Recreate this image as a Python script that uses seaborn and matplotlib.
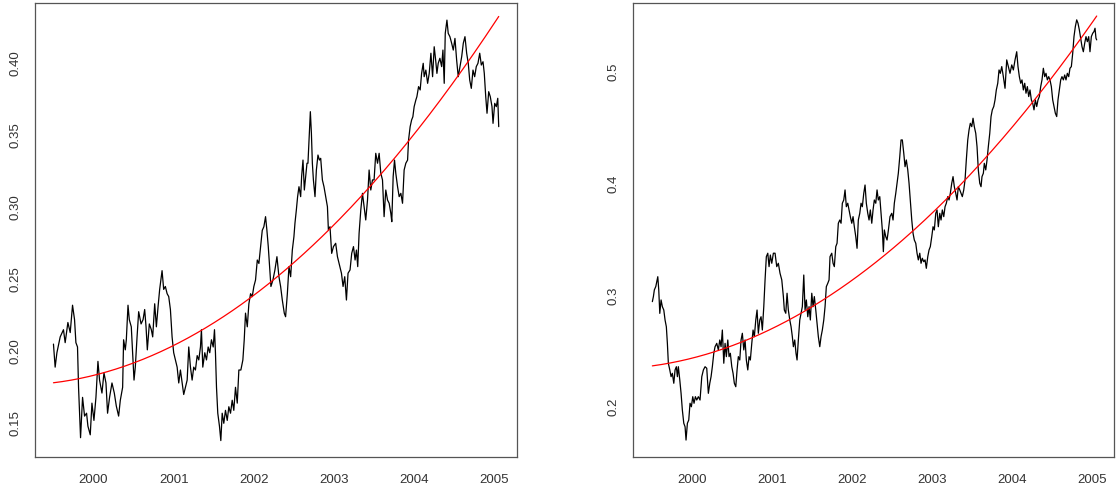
import matplotlib
matplotlib.use("Agg")
import matplotlib.pyplot as plt
import numpy as np
import pandas as pd
import seaborn as sns

# left series (years, values)
left_t = [1999.500, 1999.521, 1999.543, 1999.584, 1999.625, 1999.646, 1999.680, 1999.709, 1999.738, 1999.763,
          1999.780, 1999.800, 1999.813, 1999.825, 1999.838, 1999.863, 1999.888, 1999.913, 1999.930, 1999.959,
          1999.980, 2000.005, 2000.030, 2000.055, 2000.075, 2000.105, 2000.130, 2000.155, 2000.175, 2000.200,
          2000.230, 2000.259, 2000.284, 2000.313, 2000.334, 2000.363, 2000.375, 2000.396, 2000.409, 2000.430,
          2000.446, 2000.471, 2000.488, 2000.505, 2000.521, 2000.543, 2000.563, 2000.593, 2000.618, 2000.638,
          2000.655, 2000.671, 2000.696, 2000.721, 2000.738, 2000.763, 2000.784, 2000.805, 2000.825, 2000.855,
          2000.875, 2000.896, 2000.918, 2000.938, 2000.959, 2000.980, 2001.000, 2001.021, 2001.043, 2001.063,
          2001.084, 2001.105, 2001.125, 2001.146, 2001.168, 2001.188, 2001.209, 2001.230, 2001.250, 2001.271,
          2001.293, 2001.313, 2001.334, 2001.346, 2001.363, 2001.388, 2001.409, 2001.430, 2001.450, 2001.471,
          2001.493, 2001.509, 2001.521, 2001.534, 2001.550, 2001.571, 2001.588, 2001.605, 2001.625, 2001.646,
          2001.668, 2001.688, 2001.709, 2001.730, 2001.750, 2001.771, 2001.793, 2001.813, 2001.838, 2001.863,
          2001.880, 2001.896, 2001.918, 2001.938, 2001.959, 2001.980, 2002.000, 2002.021, 2002.043, 2002.063,
          2002.084, 2002.105, 2002.125, 2002.146, 2002.163, 2002.180, 2002.196, 2002.213, 2002.238, 2002.263,
          2002.288, 2002.313, 2002.334, 2002.355, 2002.380, 2002.396, 2002.418, 2002.438, 2002.459, 2002.480,
          2002.500, 2002.513, 2002.530, 2002.546, 2002.563, 2002.584, 2002.596, 2002.613, 2002.630, 2002.646,
          2002.663, 2002.675, 2002.688, 2002.705, 2002.718, 2002.730, 2002.743, 2002.763, 2002.780, 2002.800,
          2002.818, 2002.834, 2002.855, 2002.875, 2002.896, 2002.918, 2002.930, 2002.950, 2002.971, 2002.993,
          2003.021, 2003.043, 2003.063, 2003.093, 2003.113, 2003.134, 2003.155, 2003.175, 2003.200, 2003.221,
          2003.243, 2003.263, 2003.280, 2003.296, 2003.313, 2003.334, 2003.355, 2003.375, 2003.396, 2003.418,
          2003.438, 2003.459, 2003.480, 2003.500, 2003.521, 2003.543, 2003.563, 2003.584, 2003.605, 2003.625,
          2003.646, 2003.668, 2003.688, 2003.709, 2003.721, 2003.738, 2003.755, 2003.771, 2003.793, 2003.813,
          2003.834, 2003.855, 2003.875, 2003.896, 2003.918, 2003.930, 2003.950, 2003.968, 2003.984, 2004.000,
          2004.021, 2004.034, 2004.055, 2004.075, 2004.093, 2004.113, 2004.125, 2004.146, 2004.168, 2004.188,
          2004.209, 2004.230, 2004.250, 2004.268, 2004.284, 2004.300, 2004.321, 2004.343, 2004.359, 2004.375,
          2004.388, 2004.409, 2004.425, 2004.446, 2004.468, 2004.488, 2004.509, 2004.530, 2004.550, 2004.571,
          2004.593, 2004.613, 2004.634, 2004.655, 2004.675, 2004.693, 2004.713, 2004.734, 2004.755, 2004.775,
          2004.796, 2004.818, 2004.838, 2004.859, 2004.875, 2004.893, 2004.909, 2004.930, 2004.950, 2004.971,
          2004.984, 2005.005, 2005.025, 2005.043, 2005.055]
left_v = [0.205, 0.189, 0.199, 0.210, 0.215, 0.206, 0.220, 0.213, 0.232, 0.222,
          0.206, 0.203, 0.175, 0.159, 0.140, 0.168, 0.155, 0.157, 0.148, 0.142,
          0.164, 0.152, 0.168, 0.193, 0.180, 0.171, 0.185, 0.178, 0.157, 0.168,
          0.178, 0.171, 0.162, 0.155, 0.166, 0.175, 0.208, 0.201, 0.208, 0.232,
          0.222, 0.217, 0.199, 0.180, 0.189, 0.210, 0.2275, 0.219, 0.222, 0.229,
          0.217, 0.201, 0.219, 0.215, 0.210, 0.233, 0.217, 0.231, 0.243, 0.256,
          0.243, 0.245, 0.240, 0.238, 0.229, 0.210, 0.199, 0.194, 0.189, 0.178,
          0.187, 0.178, 0.170, 0.175, 0.180, 0.203, 0.189, 0.180, 0.189, 0.187,
          0.197, 0.194, 0.203, 0.215, 0.189, 0.199, 0.194, 0.203, 0.199, 0.208,
          0.203, 0.215, 0.199, 0.175, 0.157, 0.148, 0.138, 0.157, 0.150, 0.159,
          0.152, 0.1615, 0.157, 0.166, 0.159, 0.175, 0.164, 0.187, 0.187, 0.194,
          0.208, 0.2265, 0.217, 0.233, 0.240, 0.238, 0.245, 0.2495, 0.2634, 0.261,
          0.2727, 0.284, 0.2865, 0.2935, 0.284, 0.2727, 0.2588, 0.245, 0.2495, 0.2565,
          0.2657, 0.2518, 0.245, 0.2356, 0.2264, 0.224, 0.240, 0.2588, 0.2518, 0.2703,
          0.2796, 0.289, 0.298, 0.3074, 0.3143, 0.3074, 0.3213, 0.3328, 0.312, 0.3213,
          0.3306, 0.3306, 0.3467, 0.3664, 0.3514, 0.3306, 0.319, 0.3074, 0.3259, 0.3363,
          0.3328, 0.334, 0.319, 0.3143, 0.3074, 0.3004, 0.2842, 0.2865, 0.268, 0.2727,
          0.275, 0.2657, 0.261, 0.2542, 0.245, 0.2518, 0.2356, 0.2542, 0.2565, 0.268,
          0.2727, 0.2634, 0.2703, 0.2588, 0.2819, 0.298, 0.3097, 0.3004, 0.2912, 0.305,
          0.3259, 0.312, 0.319, 0.319, 0.3375, 0.3306, 0.3375, 0.3236, 0.319, 0.2935,
          0.312, 0.305, 0.3028, 0.2958, 0.290, 0.3213, 0.3328, 0.3236, 0.3143, 0.3074,
          0.3097, 0.3028, 0.3259, 0.3306, 0.3328, 0.3467, 0.356, 0.3606, 0.3629, 0.3699,
          0.3745, 0.3768, 0.3838, 0.3815, 0.393, 0.400, 0.3907, 0.3953, 0.3861, 0.393,
          0.407, 0.3907, 0.4115, 0.4023, 0.393, 0.400, 0.4035, 0.3977, 0.4092, 0.3861,
          0.4208, 0.430, 0.4208, 0.4185, 0.4139, 0.4092, 0.4173, 0.4023, 0.3907, 0.3977,
          0.4046, 0.4139, 0.4185, 0.407, 0.400, 0.3884, 0.3826, 0.3953, 0.3907, 0.3977,
          0.400, 0.407, 0.3988, 0.4011, 0.393, 0.3768, 0.3653, 0.3803, 0.3768, 0.3699,
          0.3583, 0.3722, 0.3699, 0.3757, 0.356]

# red trend curve of the left panel, sampled off the chart
left_trend_t = [1999.5, 2000.0, 2000.4375, 2000.959, 2001.3125, 2001.73, 2001.9375, 2002.146,
                2002.4375, 2002.8125, 2003.23, 2003.5625, 2003.875, 2004.25, 2004.667, 2005.055]
left_trend_v = [0.1785, 0.1824, 0.1905, 0.2037, 0.2136, 0.2275, 0.2368, 0.2472,
                0.2588, 0.275, 0.2993, 0.3224, 0.3421, 0.3706, 0.4016, 0.4312]

# right series
right_t = [1999.500, 1999.513, 1999.525, 1999.543, 1999.555, 1999.568, 1999.580, 1999.593, 1999.609, 1999.625,
           1999.643, 1999.659, 1999.675, 1999.688, 1999.700, 1999.718, 1999.734, 1999.750, 1999.768, 1999.784,
           1999.800, 1999.813, 1999.825, 1999.843, 1999.859, 1999.875, 1999.893, 1999.909, 1999.921, 1999.938,
           1999.955, 1999.971, 1999.988, 2000.005, 2000.021, 2000.038, 2000.055, 2000.075, 2000.096, 2000.118,
           2000.138, 2000.159, 2000.180, 2000.200, 2000.218, 2000.234, 2000.250, 2000.268, 2000.284, 2000.305,
           2000.325, 2000.343, 2000.359, 2000.375, 2000.393, 2000.409, 2000.425, 2000.443, 2000.459, 2000.475,
           2000.493, 2000.509, 2000.525, 2000.543, 2000.559, 2000.575, 2000.593, 2000.609, 2000.625, 2000.643,
           2000.659, 2000.675, 2000.693, 2000.709, 2000.725, 2000.743, 2000.759, 2000.775, 2000.793, 2000.809,
           2000.825, 2000.843, 2000.859, 2000.875, 2000.893, 2000.909, 2000.925, 2000.943, 2000.959, 2000.975,
           2000.993, 2001.013, 2001.034, 2001.055, 2001.075, 2001.096, 2001.118, 2001.138, 2001.150, 2001.168,
           2001.184, 2001.200, 2001.218, 2001.234, 2001.250, 2001.263, 2001.280, 2001.296, 2001.309, 2001.325,
           2001.343, 2001.359, 2001.375, 2001.393, 2001.409, 2001.425, 2001.443, 2001.459, 2001.475, 2001.493,
           2001.509, 2001.525, 2001.543, 2001.559, 2001.575, 2001.593, 2001.609, 2001.625, 2001.643, 2001.659,
           2001.675, 2001.693, 2001.709, 2001.721, 2001.743, 2001.759, 2001.775, 2001.793, 2001.809, 2001.825,
           2001.843, 2001.859, 2001.875, 2001.893, 2001.909, 2001.925, 2001.943, 2001.959, 2001.975, 2001.993,
           2002.009, 2002.025, 2002.043, 2002.059, 2002.075, 2002.093, 2002.109, 2002.125, 2002.143, 2002.159,
           2002.175, 2002.193, 2002.209, 2002.225, 2002.243, 2002.259, 2002.275, 2002.293, 2002.309, 2002.325,
           2002.343, 2002.359, 2002.375, 2002.388, 2002.400, 2002.418, 2002.434, 2002.450, 2002.471, 2002.493,
           2002.509, 2002.525, 2002.543, 2002.559, 2002.575, 2002.593, 2002.609, 2002.625, 2002.643, 2002.659,
           2002.675, 2002.693, 2002.709, 2002.725, 2002.743, 2002.759, 2002.775, 2002.793, 2002.809, 2002.825,
           2002.843, 2002.859, 2002.875, 2002.893, 2002.909, 2002.925, 2002.943, 2002.959, 2002.975, 2002.993,
           2003.009, 2003.025, 2003.043, 2003.059, 2003.075, 2003.093, 2003.109, 2003.125, 2003.143, 2003.159,
           2003.175, 2003.193, 2003.209, 2003.225, 2003.243, 2003.259, 2003.275, 2003.293, 2003.309, 2003.325,
           2003.343, 2003.359, 2003.375, 2003.393, 2003.409, 2003.425, 2003.443, 2003.459, 2003.475, 2003.493,
           2003.509, 2003.525, 2003.543, 2003.559, 2003.575, 2003.593, 2003.609, 2003.621, 2003.638, 2003.650,
           2003.668, 2003.684, 2003.700, 2003.718, 2003.734, 2003.750, 2003.768, 2003.784, 2003.800, 2003.818,
           2003.834, 2003.850, 2003.868, 2003.888, 2003.909, 2003.930, 2003.950, 2003.971, 2003.993, 2004.013,
           2004.034, 2004.055, 2004.071, 2004.088, 2004.105, 2004.121, 2004.138, 2004.155, 2004.171, 2004.188,
           2004.205, 2004.221, 2004.238, 2004.255, 2004.271, 2004.288, 2004.305, 2004.321, 2004.338, 2004.355,
           2004.371, 2004.388, 2004.405, 2004.421, 2004.438, 2004.455, 2004.471, 2004.488, 2004.505, 2004.521,
           2004.538, 2004.555, 2004.571, 2004.588, 2004.605, 2004.621, 2004.638, 2004.655, 2004.671, 2004.688,
           2004.705, 2004.721, 2004.738, 2004.755, 2004.771, 2004.788, 2004.805, 2004.821, 2004.838, 2004.855,
           2004.871, 2004.888, 2004.905, 2004.921, 2004.938, 2004.955, 2004.971, 2004.988, 2005.005, 2005.021,
           2005.034, 2005.046, 2005.055]
right_v = [0.2945, 0.299, 0.305, 0.308, 0.3123, 0.3168, 0.305, 0.284, 0.296, 0.290,
           0.287, 0.278, 0.272, 0.257, 0.2394, 0.2334, 0.2274, 0.2304, 0.2215, 0.2334,
           0.2363, 0.2274, 0.2363, 0.2244, 0.2125, 0.1976, 0.1857, 0.1826, 0.1707, 0.1857,
           0.1886, 0.2036, 0.2005, 0.2095, 0.2036, 0.2095, 0.2065, 0.2095, 0.2065, 0.2274,
           0.2334, 0.2363, 0.2349, 0.2125, 0.2215, 0.2274, 0.2363, 0.2483, 0.2542, 0.2572,
           0.2513, 0.2602, 0.2542, 0.2691, 0.2394, 0.2572, 0.2453, 0.2602, 0.2453, 0.2483,
           0.2363, 0.2304, 0.2215, 0.2184, 0.2334, 0.2453, 0.2423, 0.2602, 0.2662, 0.2513,
           0.2602, 0.2423, 0.2334, 0.2453, 0.2423, 0.2572, 0.2691, 0.2632, 0.2781, 0.287,
           0.2662, 0.2781, 0.281, 0.2691, 0.290, 0.3139, 0.3347, 0.3378, 0.3258, 0.3362,
           0.3288, 0.3378, 0.3378, 0.3258, 0.3288, 0.3199, 0.3139, 0.299, 0.287, 0.2841,
           0.302, 0.287, 0.2781, 0.2721, 0.2632, 0.2542, 0.2602, 0.2483, 0.2423, 0.2602,
           0.2781, 0.2841, 0.290, 0.3183, 0.287, 0.296, 0.281, 0.290, 0.2781, 0.302,
           0.290, 0.299, 0.287, 0.2751, 0.2632, 0.2542, 0.2632, 0.2691, 0.2781, 0.290,
           0.3079, 0.3109, 0.3139, 0.3347, 0.3378, 0.3288, 0.3258, 0.3437, 0.3467, 0.3646,
           0.3675, 0.3646, 0.3825, 0.3854, 0.3944, 0.3794, 0.3825, 0.3765, 0.3705, 0.3646,
           0.3705, 0.3615, 0.3526, 0.3422, 0.3675, 0.3735, 0.3825, 0.3794, 0.3914, 0.3988,
           0.3825, 0.3735, 0.3675, 0.3765, 0.3646, 0.3765, 0.3854, 0.3825, 0.3944, 0.3854,
           0.3884, 0.3735, 0.3586, 0.3392, 0.3586, 0.3526, 0.3496, 0.358, 0.3705, 0.3735,
           0.3675, 0.3825, 0.3914, 0.4004, 0.4093, 0.4241, 0.4391, 0.4391, 0.4272, 0.4152,
           0.4212, 0.4123, 0.4004, 0.3854, 0.3675, 0.3556, 0.3496, 0.3467, 0.3378, 0.3318,
           0.3378, 0.3288, 0.3333, 0.3302, 0.3318, 0.3243, 0.3347, 0.3407, 0.3437, 0.3526,
           0.3615, 0.3586, 0.3735, 0.3765, 0.3615, 0.3735, 0.3675, 0.3765, 0.3705, 0.3794,
           0.3825, 0.3884, 0.3854, 0.3914, 0.4004, 0.4063, 0.3973, 0.3914, 0.3854, 0.3973,
           0.3944, 0.3914, 0.3884, 0.3944, 0.4033, 0.4212, 0.4391, 0.448, 0.454, 0.451,
           0.4585, 0.451, 0.445, 0.433, 0.4123, 0.4004, 0.3973, 0.4063, 0.4093, 0.4182,
           0.4123, 0.4212, 0.433, 0.445, 0.460, 0.466, 0.469, 0.4749, 0.4838, 0.4898,
           0.5017, 0.4987, 0.5047, 0.4957, 0.4853, 0.5107, 0.5047, 0.4987, 0.5062, 0.5017,
           0.5107, 0.518, 0.5047, 0.4957, 0.4898, 0.4928, 0.4838, 0.4898, 0.4809, 0.4868,
           0.4779, 0.4838, 0.4749, 0.4719, 0.466, 0.4749, 0.469, 0.4749, 0.4779, 0.4868,
           0.4928, 0.5032, 0.4957, 0.4987, 0.4928, 0.4957, 0.4928, 0.4868, 0.4749, 0.469,
           0.463, 0.460, 0.4749, 0.4838, 0.4928, 0.4957, 0.4928, 0.4972, 0.4928, 0.4987,
           0.4957, 0.5032, 0.5047, 0.5166, 0.5315, 0.5405, 0.5465, 0.5435, 0.5375, 0.530,
           0.5226, 0.518, 0.5256, 0.5315, 0.527, 0.5315, 0.518, 0.5315, 0.5345, 0.536,
           0.539, 0.530, 0.5286]

# red trend curve of the right panel, sampled off the chart
right_trend_t = [1999.5, 2000.0, 2000.284, 2000.575, 2000.784, 2000.971, 2001.325, 2001.534,
                 2001.742, 2001.95, 2002.159, 2002.471, 2002.763, 2003.034, 2003.325, 2003.659,
                 2003.971, 2004.263, 2004.471, 2004.68, 2004.888, 2005.055]
right_trend_v = [0.2378, 0.2438, 0.2497, 0.2557, 0.2617, 0.2691, 0.2826, 0.2915,
                 0.3034, 0.3139, 0.3243, 0.3407, 0.3571, 0.375, 0.3959, 0.4212,
                 0.448, 0.4704, 0.4928, 0.5151, 0.5345, 0.5494]

year_ticks = [2000, 2001, 2002, 2003, 2004, 2005]
left_yticks = [0.15, 0.20, 0.25, 0.30, 0.35, 0.40]
left_ylabels = ["0.15", "0.20", "0.25", "0.30", "0.35", "0.40"]
right_yticks = [0.2, 0.3, 0.4, 0.5]
right_ylabels = ["0.2", "0.3", "0.4", "0.5"]

sns.set_style("white")
plt.rcParams['font.family'] = ['Liberation Sans', 'DejaVu Sans']

fig = plt.figure(figsize=(11.19, 4.95), dpi=100)
ax1 = fig.add_axes([0.0313, 0.0768, 0.4305, 0.9172])
ax2 = fig.add_axes([0.5660, 0.0762, 0.4298, 0.9178])

panels = [
    (ax1, left_t, left_v, left_trend_t, left_trend_v,
     (1999.27, 2005.28), (0.1266, 0.4419), left_yticks, left_ylabels),
    (ax2, right_t, right_v, right_trend_t, right_trend_v,
     (1999.2625, 2005.275), (0.1553, 0.5616), right_yticks, right_ylabels),
]

for ax, t, v, tr_t, tr_v, xlim, ylim, yt, yl in panels:
    df = pd.DataFrame({'t': t, 'v': v})
    # smooth quadratic through the sampled red trend points
    coef = np.polyfit(tr_t, tr_v, 2)
    tt = np.linspace(tr_t[0], tr_t[-1], 200)
    trend = pd.DataFrame({'t': tt, 'v': np.polyval(coef, tt)})

    sns.lineplot(data=df, x='t', y='v', ax=ax, color='black', linewidth=0.9,
                 estimator=None, sort=False)
    sns.lineplot(data=trend, x='t', y='v', ax=ax, color='red', linewidth=0.9,
                 estimator=None, sort=False)

    ax.set_xlim(*xlim)
    ax.set_ylim(*ylim)
    ax.set_xticks(year_ticks)
    ax.set_xticklabels([str(y) for y in year_ticks])
    ax.set_yticks(yt)
    ax.set_yticklabels(yl, rotation=90, va='center')
    ax.set_xlabel('')
    ax.set_ylabel('')
    ax.tick_params(axis='both', direction='out', length=5, width=0.8,
                   color='#444444', labelcolor='#333333', labelsize=9.5)
    ax.tick_params(axis='x', pad=7)
    ax.tick_params(axis='y', pad=5)
    for s in ax.spines.values():
        s.set_visible(True)
        s.set_color('#555555')
        s.set_linewidth(0.9)

fig.savefig('out.png', dpi=100)
